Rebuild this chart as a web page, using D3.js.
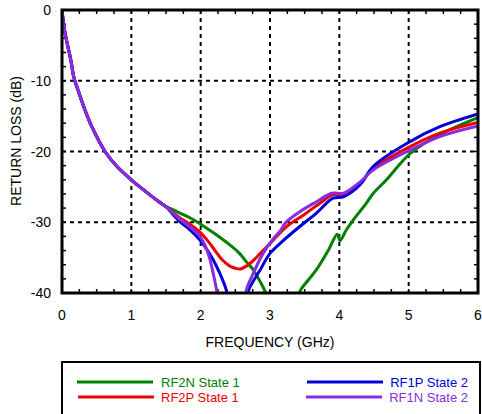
<!DOCTYPE html>
<html><head><meta charset="utf-8">
<script src="https://cdn.jsdelivr.net/npm/d3@7"></script>
<style>
body{margin:0;background:#fff;}
text{font-family:"Liberation Sans",Arial,Helvetica,sans-serif;}
</style></head>
<body><svg id="c" width="482" height="414"></svg>
<script>
// Shared early part of all curves (GHz, dB)
const commonF = [0, 0.03, 0.07, 0.13, 0.17, 0.22, 0.33, 0.43, 0.62, 0.8, 1.0, 1.2, 1.37, 1.5];
const commonDb = [0, -2.5, -4.5, -7.2, -9.5, -11, -14.1, -16.5, -20, -22.2, -24.0, -25.6, -26.9, -27.8];

const rf2nF  = [1.6, 1.7, 1.85, 1.99, 2.2, 2.42, 2.55, 2.66, 2.75, 2.83, 2.93, 3.0, 3.38, 3.43, 3.55, 3.67, 3.85, 3.97, 4.01, 4.1, 4.2, 4.39, 4.49, 4.68, 5.02, 5.45, 6.0];
const rf2nDb = [-28.2, -28.7, -29.4, -30.2, -31.6, -33.2, -34.3, -35.6, -36.6, -37.9, -39.8, -42, -42, -39.8, -38.2, -36.7, -33.8, -31.7, -32.6, -31.1, -29.7, -27.3, -25.9, -24.0, -20.3, -17.6, -15.2];

const rf2pF  = [1.6, 1.7, 1.85, 1.99, 2.1, 2.2, 2.3, 2.42, 2.5, 2.57, 2.66, 2.76, 2.86, 3.0, 3.24, 3.48, 3.72, 3.91, 4.06, 4.3, 4.49, 5.02, 5.45, 6.0];
const rf2pDb = [-28.6, -29.4, -30.3, -31.4, -32.6, -33.9, -35.2, -36.2, -36.5, -36.6, -36.2, -35.4, -34.4, -33.0, -30.6, -29.0, -27.3, -26.1, -26.1, -24.5, -22.4, -19.3, -17.4, -15.9];

const rf1pF  = [1.6, 1.7, 1.85, 1.99, 2.1, 2.18, 2.28, 2.37, 2.42, 2.66, 2.69, 2.78, 2.86, 3.0, 3.19, 3.43, 3.67, 3.91, 4.06, 4.3, 4.49, 5.02, 5.45, 6.0];
const rf1pDb = [-28.9, -29.9, -31.1, -32.5, -34.0, -35.3, -37.3, -39.6, -42, -42, -39.6, -38.0, -36.7, -34.4, -32.6, -30.6, -28.7, -26.6, -26.4, -24.7, -22.1, -18.6, -16.5, -14.7];

const rf1nF  = [1.6, 1.7, 1.85, 1.99, 2.07, 2.13, 2.18, 2.23, 2.26, 2.64, 2.66, 2.76, 2.9, 3.05, 3.15, 3.22, 3.43, 3.67, 3.89, 4.06, 4.3, 4.49, 5.02, 5.45, 6.0];
const rf1nDb = [-28.7, -29.6, -30.7, -32.0, -33.4, -35.1, -37.2, -39.6, -42, -42, -39.6, -37.2, -34.4, -32.3, -31.2, -30.1, -28.5, -27.1, -25.9, -25.9, -24.3, -22.6, -19.8, -17.9, -16.4];

const seriesNames = ["RF2N State 1", "RF2P State 1", "RF1P State 2", "RF1N State 2"];
const seriesColors = ["#008000", "#ee0000", "#0000dd", "#8a2be2"];
const xTicks = [0, 1, 2, 3, 4, 5, 6];
const yTicks = [0, -10, -20, -30, -40];

const series = [
  {name: seriesNames[0], color: seriesColors[0], f: rf2nF, db: rf2nDb},
  {name: seriesNames[1], color: seriesColors[1], f: rf2pF, db: rf2pDb},
  {name: seriesNames[2], color: seriesColors[2], f: rf1pF, db: rf1pDb},
  {name: seriesNames[3], color: seriesColors[3], f: rf1nF, db: rf1nDb}
];

const svg = d3.select("#c");
const L = 62, R = 478, T = 10, B = 293;
const x = d3.scaleLinear().domain([0, 6]).range([L, R]);
const y = d3.scaleLinear().domain([-40, 0]).range([B, T]);

// grid
const g = svg.append("g");
g.selectAll("line.vg").data(xTicks.slice(1, -1)).enter().append("line")
  .attr("x1", d => x(d)).attr("x2", d => x(d)).attr("y1", T).attr("y2", B)
  .attr("stroke", "#000").attr("stroke-width", 2).attr("stroke-dasharray", "4,4");
g.selectAll("line.hg").data(yTicks.slice(1, -1)).enter().append("line")
  .attr("x1", L).attr("x2", R).attr("y1", d => y(d)).attr("y2", d => y(d))
  .attr("stroke", "#000").attr("stroke-width", 2).attr("stroke-dasharray", "4,4");

// minor ticks
const xMinor = d3.range(0.25, 6, 0.25);
const yMinor = d3.range(-38, 0, 2);
const tk = svg.append("g").attr("stroke", "#000").attr("stroke-width", 1.5);
xMinor.forEach(v => {
  tk.append("line").attr("x1", x(v)).attr("x2", x(v)).attr("y1", B).attr("y2", B - 4);
  tk.append("line").attr("x1", x(v)).attr("x2", x(v)).attr("y1", T).attr("y2", T + 4);
});
yMinor.forEach(v => {
  tk.append("line").attr("x1", L).attr("x2", L + 4).attr("y1", y(v)).attr("y2", y(v));
  tk.append("line").attr("x1", R).attr("x2", R - 4).attr("y1", y(v)).attr("y2", y(v));
});

// curves
svg.append("clipPath").attr("id", "clip").append("rect")
  .attr("x", L).attr("y", T).attr("width", R - L).attr("height", B - T);
const line = d3.line().x(d => x(d[0])).y(d => y(d[1])).curve(d3.curveCatmullRom.alpha(0.5));
const cg = svg.append("g").attr("clip-path", "url(#clip)");
series.forEach(s => {
  const pts = commonF.map((f, i) => [f, commonDb[i]]).concat(s.f.map((f, i) => [f, s.db[i]]));
  cg.append("path").attr("d", line(pts)).attr("fill", "none")
    .attr("stroke", s.color).attr("stroke-width", 3).attr("stroke-linejoin", "round");
});

// frame
svg.append("rect").attr("x", L).attr("y", T).attr("width", R - L).attr("height", B - T)
  .attr("fill", "none").attr("stroke", "#000").attr("stroke-width", 3);

// axes labels
svg.append("g").selectAll("text").data(xTicks).enter().append("text")
  .attr("x", d => x(d)).attr("y", 320).attr("text-anchor", "middle")
  .attr("font-size", 14).text(d => d);
svg.append("g").selectAll("text").data(yTicks).enter().append("text")
  .attr("x", 51).attr("y", d => y(d) + 5).attr("text-anchor", "end")
  .attr("font-size", 14).text(d => d);
svg.append("text").attr("x", (L + R) / 2).attr("y", 347).attr("text-anchor", "middle")
  .attr("font-size", 14).text("FREQUENCY (GHz)");
svg.append("text").attr("transform", "translate(21,141) rotate(-90)").attr("text-anchor", "middle")
  .attr("font-size", 14).text("RETURN LOSS (dB)");

// legend
svg.append("rect").attr("x", 62).attr("y", 362).attr("width", 418).attr("height", 70)
  .attr("fill", "none").attr("stroke", "#000").attr("stroke-width", 2);
const legPos = [
  {lx1: 77, lx2: 153, ly: 382, tx: 161, anchor: "start"},
  {lx1: 78, lx2: 154, ly: 397, tx: 161, anchor: "start"},
  {lx1: 307, lx2: 383, ly: 382, tx: 468, anchor: "end"},
  {lx1: 306, lx2: 382, ly: 397, tx: 468, anchor: "end"}
];
series.forEach((s, i) => {
  const p = legPos[i];
  svg.append("line").attr("x1", p.lx1).attr("x2", p.lx2).attr("y1", p.ly).attr("y2", p.ly)
    .attr("stroke", s.color).attr("stroke-width", 3);
  svg.append("text").attr("x", p.tx).attr("y", p.ly + 4.5).attr("text-anchor", p.anchor)
    .attr("font-size", 13).attr("fill", s.color).text(s.name);
});
</script></body></html>
